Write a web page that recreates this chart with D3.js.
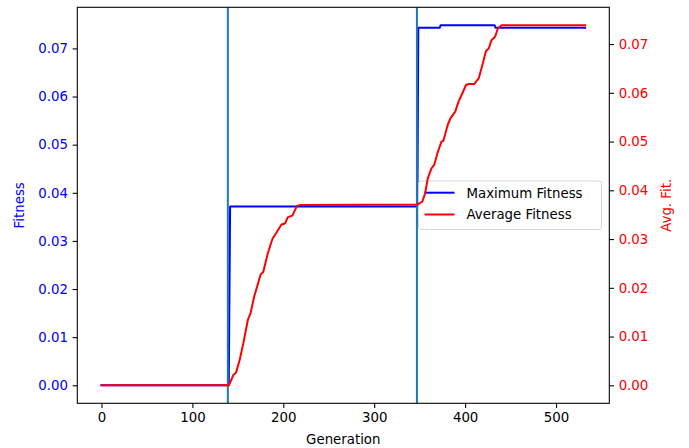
<!DOCTYPE html>
<html>
<head>
<meta charset="utf-8">
<script src="https://cdn.jsdelivr.net/npm/d3@7"></script>
<style>
  html, body { margin: 0; padding: 0; background: #fff; }
  svg { display: block; font-family: "DejaVu Sans", sans-serif; }
</style>
</head>
<body>
<svg id="chart" width="689" height="448"></svg>
<script>
// ---- data ----
const maxGenerations = [0, 140, 141.5, 347.5, 348.5, 372, 373, 432.5, 433.5, 532];
const maxFitness     = [0, 0, 0.03717, 0.03717, 0.07428, 0.07428, 0.0748, 0.0748, 0.07428, 0.07428];

const avgGenerations = [0, 140, 142, 145, 148, 152, 156, 161, 164, 168, 175, 178, 183, 188, 192, 198, 202, 205, 210, 215, 219,
                        348, 353, 356, 359, 363, 366, 370, 374, 376, 381, 384, 389, 393, 396, 401, 404, 410, 415, 419, 423, 426, 429, 433, 436, 440, 532];
const avgFitness     = [0, 0, 0.00074, 0.0021, 0.0026, 0.0052, 0.0086, 0.0134, 0.0148, 0.0182, 0.0227, 0.0233, 0.0271, 0.0300, 0.0312, 0.0330, 0.0332, 0.0345, 0.0348, 0.0368, 0.0370,
                        0.0371, 0.0377, 0.0394, 0.0425, 0.0445, 0.0452, 0.0479, 0.0500, 0.0501, 0.0535, 0.0548, 0.0561, 0.0583, 0.0595, 0.0616, 0.0618, 0.0618, 0.0630, 0.0657, 0.0686, 0.0691, 0.0708, 0.0715, 0.0732, 0.07385, 0.07385];

const markerGenerations = [139, 347];

const xTicks = [0, 100, 200, 300, 400, 500];
const leftTicks = [0, 0.01, 0.02, 0.03, 0.04, 0.05, 0.06, 0.07];
const rightTicks = [0, 0.01, 0.02, 0.03, 0.04, 0.05, 0.06, 0.07];

const legendLabels = ["Maximum Fitness", "Average Fitness"];
const legendColors = ["blue", "red"];

// ---- layout ----
const W = 689, H = 448;
const L = 77.3, R = 609.3, T = 7.3, B = 403.3;
const FS = 13.33;
const svg = d3.select("#chart");

function padded(lo, hi) { const d = hi - lo; return [lo - 0.05 * d, hi + 0.05 * d]; }

const xAll = maxGenerations.concat(avgGenerations);
const x = d3.scaleLinear().domain(padded(d3.min(xAll), d3.max(xAll))).range([L, R]);
const yL = d3.scaleLinear().domain(padded(d3.min(maxFitness), d3.max(maxFitness))).range([B, T]);
const yR = d3.scaleLinear().domain(padded(d3.min(avgFitness), d3.max(avgFitness))).range([B, T]);

const clip = svg.append("defs").append("clipPath").attr("id", "clip")
  .append("rect").attr("x", L).attr("y", T).attr("width", R - L).attr("height", B - T);

const plot = svg.append("g").attr("clip-path", "url(#clip)");

// max fitness line (ax1)
const maxData = maxGenerations.map((g, i) => [g, maxFitness[i]]);
plot.append("path")
  .datum(maxData)
  .attr("fill", "none").attr("stroke", "blue").attr("stroke-width", 2)
  .attr("stroke-linejoin", "round").attr("stroke-linecap", "square")
  .attr("d", d3.line().x(d => x(d[0])).y(d => yL(d[1])));

// vertical markers
plot.selectAll("line.vl").data(markerGenerations).enter().append("line")
  .attr("x1", d => x(d)).attr("x2", d => x(d)).attr("y1", T).attr("y2", B)
  .attr("stroke", "#1f77b4").attr("stroke-width", 2);

// legend (ax1)
const lg = svg.append("g");
const lgX = 418.5, lgY = 181, lgW = 183, lgH = 48.5;
lg.append("rect").attr("x", lgX).attr("y", lgY).attr("width", lgW).attr("height", lgH)
  .attr("rx", 2.5).attr("fill", "white").attr("fill-opacity", 0.8)
  .attr("stroke", "#cccccc").attr("stroke-opacity", 0.8).attr("stroke-width", 1);
legendLabels.forEach((lab, i) => {
  const cy = 192.7 + i * 21.8;
  lg.append("line").attr("x1", 424.5).attr("x2", 454.5).attr("y1", cy).attr("y2", cy)
    .attr("stroke", legendColors[i]).attr("stroke-width", 2);
  lg.append("text").attr("x", 466.5).attr("y", cy + 4.8)
    .attr("font-size", FS).attr("fill", "#000").text(lab);
});

// avg fitness line (ax2) on top
const avgData = avgGenerations.map((g, i) => [g, avgFitness[i]]);
svg.append("g").attr("clip-path", "url(#clip)").append("path")
  .datum(avgData)
  .attr("fill", "none").attr("stroke", "red").attr("stroke-width", 2)
  .attr("stroke-linejoin", "round").attr("stroke-linecap", "square")
  .attr("d", d3.line().x(d => x(d[0])).y(d => yR(d[1])));

// axes
const xAxis = d3.axisBottom(x).tickValues(xTicks).tickFormat(d3.format("d")).tickSizeOuter(0).tickSize(4.67).tickPadding(4.67);
const gx = svg.append("g").attr("transform", `translate(0,${B})`).call(xAxis);
gx.select(".domain").remove();
gx.selectAll("line").attr("stroke", "#000").attr("stroke-width", 1.07);
gx.selectAll("text").attr("font-size", FS).attr("font-family", "DejaVu Sans").attr("fill", "#000");

const lAxis = d3.axisLeft(yL).tickValues(leftTicks).tickFormat(d3.format(".2f")).tickSizeOuter(0).tickSize(4.67).tickPadding(4.67);
const gl = svg.append("g").attr("transform", `translate(${L},0)`).call(lAxis);
gl.select(".domain").remove();
gl.selectAll("line").attr("stroke", "#000").attr("stroke-width", 1.07);
gl.selectAll("text").attr("font-size", FS).attr("font-family", "DejaVu Sans").attr("fill", "blue");

const rAxis = d3.axisRight(yR).tickValues(rightTicks).tickFormat(d3.format(".2f")).tickSizeOuter(0).tickSize(4.67).tickPadding(4.67);
const gr = svg.append("g").attr("transform", `translate(${R},0)`).call(rAxis);
gr.select(".domain").remove();
gr.selectAll("line").attr("stroke", "#000").attr("stroke-width", 1.07);
gr.selectAll("text").attr("font-size", FS).attr("font-family", "DejaVu Sans").attr("fill", "red");

// frame
svg.append("rect").attr("x", L).attr("y", T).attr("width", R - L).attr("height", B - T)
  .attr("fill", "none").attr("stroke", "#000").attr("stroke-width", 1.07);

// labels
svg.append("text").attr("x", (L + R) / 2).attr("y", 444).attr("text-anchor", "middle")
  .attr("font-size", FS).attr("fill", "#000").text("Generation");
svg.append("text").attr("transform", `translate(23.5,${(T + B) / 2}) rotate(-90)`).attr("text-anchor", "middle")
  .attr("font-size", FS).attr("fill", "blue").text("Fitness");
svg.append("text").attr("transform", `translate(670.5,${(T + B) / 2}) rotate(-90)`).attr("text-anchor", "middle")
  .attr("font-size", FS).attr("fill", "red").text("Avg. Fit.");
</script>
</body>
</html>
